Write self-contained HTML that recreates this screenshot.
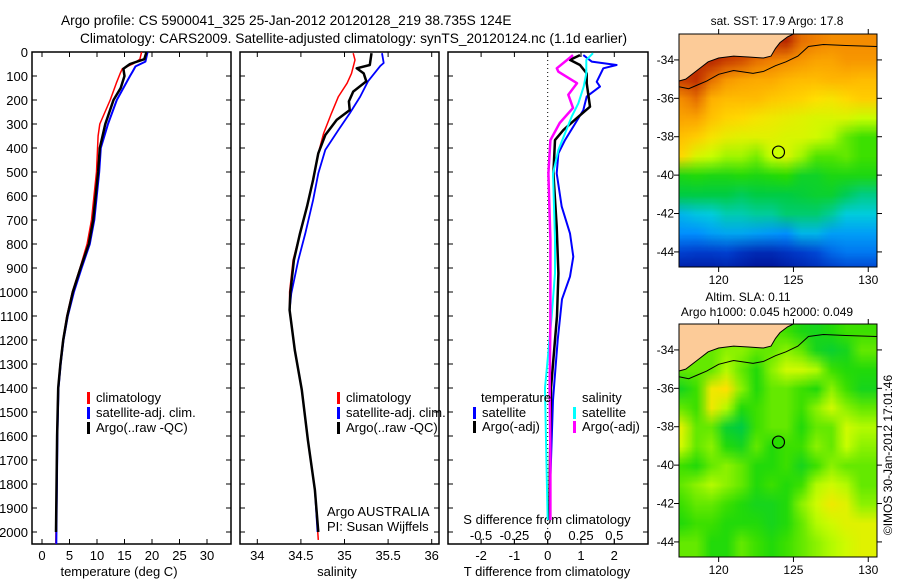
<!DOCTYPE html>
<html><head><meta charset="utf-8"><style>
html,body{margin:0;padding:0;background:#fff;width:900px;height:580px;overflow:hidden}
#wrap{position:relative;width:900px;height:580px}
canvas{position:absolute}
svg{position:absolute;left:0;top:0}
text{font-family:"Liberation Sans",sans-serif;font-size:13px;fill:#000}
</style></head><body>
<div id="wrap">
<canvas id="sstc" width="198" height="233" style="left:679px;top:34px"></canvas>
<canvas id="slac" width="198" height="233" style="left:679px;top:324px"></canvas>
<svg id="fig" width="900" height="580">
<text x="61" y="25" style="font-size:13.7px">Argo profile: CS 5900041_325 25-Jan-2012 20120128_219 38.735S 124E</text>
<text x="80" y="43" style="font-size:13.7px">Climatology: CARS2009. Satellite-adjusted climatology: synTS_20120124.nc (1.1d earlier)</text>
<text x="777" y="25" text-anchor="middle" style="font-size:12px">sat. SST: 17.9 Argo: 17.8</text>
<text x="748" y="301" text-anchor="middle" style="font-size:12px">Altim. SLA: 0.11</text>
<text x="767" y="316" text-anchor="middle" style="font-size:12px">Argo h1000: 0.045 h2000: 0.049</text>
<text transform="translate(892,455) rotate(-90)" text-anchor="middle" style="font-size:12px">©IMOS 30-Jan-2012 17:01:46</text>
<text x="119" y="576" text-anchor="middle">temperature (deg C)</text>
<text x="337" y="576" text-anchor="middle">salinity</text>
<text x="547" y="576" text-anchor="middle">T difference from climatology</text>
<text x="547" y="524" text-anchor="middle">S difference from climatology</text>
<text x="327" y="516">Argo AUSTRALIA</text>
<text x="327" y="531">PI: Susan Wijffels</text>
</svg>
</div>
<script>
// ---------- data ----------
const depthTicks=[0,100,200,300,400,500,600,700,800,900,1000,1100,1200,1300,1400,1500,1600,1700,1800,1900,2000];
const tTicks=[0,5,10,15,20,25,30];
const sTicks=[34,34.5,35,35.5,36];
const tdTicks=[-2,-1,0,1,2];
const tdTickLabels=["-2","-1","0","1","2"];
const sdTicks=[-0.5,-0.25,0,0.25,0.5];
const sdTickLabels=["-0.5","-0.25","0","0.25","0.5"];
// temperature profiles
const tClimDepth=[0,30,50,60,70,90,130,200,300,350,500,700,800,900,1000,1100,1200,1300,1400,1600,2050];
const tClim=[18.1,17.8,16.5,15.5,14.6,14.2,13.5,12.4,10.5,10.2,9.9,9.0,8.2,6.9,5.5,4.5,3.8,3.3,2.9,2.7,2.5];
const tSatDepth=[0,40,60,80,100,150,200,300,400,500,700,800,900,1000,1100,1200,1300,1400,1600,2050];
const tSat=[19.2,18.8,17.0,16.5,16.0,14.8,13.6,12.0,10.7,10.4,9.5,8.7,7.2,5.8,4.7,3.9,3.4,3.0,2.8,2.6];
const tArgoDepth=[0,30,50,70,100,150,200,300,400,500,700,800,900,1000,1100,1200,1300,1400,1600,2000];
const tArgo=[19.0,18.6,16.0,14.8,15.0,14.3,13.0,11.5,10.5,10.2,9.3,8.5,7.0,5.6,4.6,3.85,3.35,2.95,2.75,2.55];
// salinity profiles
const sClimDepth=[5,33,89,130,186,256,339,422,533,644,756,867,1000,1075,1242,1408,1617,1825,2033];
const sClim=[35.10,35.12,35.08,35.03,34.93,34.85,34.76,34.70,34.64,34.57,34.49,34.41,34.37,34.37,34.43,34.51,34.58,34.66,34.70];
const sSatDepth=[5,46,58,122,186,256,325,408,506,617,756,867,1006,1075,1242,1408,1617,1825,2000];
const sSat=[35.43,35.45,35.41,35.27,35.18,35.06,34.93,34.78,34.70,34.64,34.55,34.47,34.39,34.37,34.43,34.51,34.58,34.66,34.69];
const sArgoDepth=[5,54,68,89,122,165,206,242,283,346,422,533,644,756,867,1000,1075,1242,1408,1617,1825,2000];
const sArgo=[35.31,35.29,35.14,35.22,35.25,35.10,35.05,35.06,34.91,34.78,34.70,34.64,34.57,34.49,34.42,34.38,34.37,34.43,34.51,34.58,34.66,34.70];
// difference profiles
const dTSatDepth=[13,40,54,68,124,144,186,242,311,367,422,506,644,756,853,936,1030,1200,1450,1700,1950];
const dTSat=[1.07,1.32,2.07,1.67,1.47,1.57,1.17,1.07,0.77,0.52,0.32,0.27,0.42,0.67,0.77,0.67,0.43,0.3,0.16,0.1,0.04];
const dTArgoDepth=[13,33,54,89,130,228,276,325,367,506,728,922,1100,1400,1700,1950];
const dTArgo=[0.97,0.67,0.97,1.17,1.17,1.27,0.87,0.47,0.22,0.17,0.27,0.32,0.28,0.10,0.07,0.05];
const dSSatDepth=[5,33,89,144,214,269,339,408,506,783,922,1100,1400,1700,1950];
const dSSat=[0.34,0.29,0.29,0.27,0.23,0.18,0.13,0.08,0.04,0.055,0.055,0.03,-0.02,-0.01,0.0];
const dSArgoDepth=[13,68,82,130,178,233,296,367,506,783,1100,1400,1700,1950];
const dSArgo=[0.19,0.068,0.08,0.22,0.155,0.19,0.09,0.02,0.005,0.02,0.02,0.015,0.02,0.02];
// maps: rows lat 33..45, cols lon 117.5..130.5
const sstGrid=[
[0.88,0.88,0.88,0.88,0.88,0.88,0.88,0.9,0.8,0.78,0.76,0.76,0.76,0.76],
[0.88,0.88,0.9,0.86,0.84,0.8,0.78,0.76,0.74,0.72,0.72,0.74,0.74,0.74],
[0.86,0.88,0.8,0.74,0.72,0.71,0.71,0.69,0.68,0.68,0.69,0.69,0.68,0.68],
[0.76,0.8,0.7,0.68,0.68,0.68,0.66,0.65,0.64,0.62,0.61,0.63,0.65,0.65],
[0.72,0.72,0.67,0.64,0.63,0.61,0.6,0.59,0.58,0.57,0.57,0.57,0.55,0.55],
[0.67,0.65,0.61,0.59,0.58,0.58,0.58,0.57,0.57,0.56,0.54,0.5,0.48,0.48],
[0.63,0.57,0.55,0.53,0.53,0.51,0.55,0.57,0.53,0.49,0.49,0.5,0.48,0.48],
[0.45,0.46,0.45,0.45,0.46,0.45,0.46,0.47,0.43,0.43,0.45,0.45,0.45,0.45],
[0.4,0.4,0.4,0.4,0.39,0.4,0.4,0.4,0.41,0.42,0.42,0.39,0.37,0.37],
[0.3,0.32,0.33,0.35,0.35,0.36,0.36,0.38,0.38,0.38,0.36,0.33,0.33,0.33],
[0.25,0.25,0.27,0.28,0.28,0.27,0.26,0.25,0.3,0.3,0.27,0.27,0.27,0.27],
[0.15,0.14,0.14,0.15,0.12,0.1,0.1,0.12,0.14,0.16,0.2,0.22,0.22,0.22],
[0.06,0.06,0.06,0.07,0.06,0.04,0.04,0.06,0.08,0.1,0.12,0.14,0.14,0.14]];
const slaGrid=[
[0.5,0.5,0.5,0.5,0.5,0.5,0.5,0.48,0.45,0.44,0.46,0.48,0.48,0.48],
[0.5,0.5,0.5,0.52,0.52,0.5,0.5,0.52,0.5,0.44,0.42,0.44,0.5,0.5],
[0.5,0.5,0.5,0.54,0.5,0.46,0.52,0.56,0.56,0.54,0.48,0.46,0.46,0.46],
[0.44,0.48,0.6,0.62,0.52,0.46,0.5,0.5,0.48,0.46,0.52,0.48,0.44,0.44],
[0.5,0.48,0.6,0.54,0.46,0.48,0.5,0.5,0.48,0.52,0.56,0.52,0.5,0.5],
[0.58,0.5,0.5,0.42,0.4,0.48,0.5,0.5,0.46,0.5,0.5,0.56,0.54,0.54],
[0.56,0.5,0.52,0.46,0.44,0.5,0.46,0.48,0.48,0.52,0.5,0.55,0.52,0.52],
[0.48,0.46,0.5,0.52,0.5,0.46,0.46,0.48,0.44,0.48,0.52,0.5,0.5,0.5],
[0.5,0.52,0.54,0.52,0.5,0.46,0.48,0.46,0.48,0.54,0.56,0.54,0.5,0.5],
[0.48,0.5,0.5,0.48,0.46,0.44,0.44,0.46,0.52,0.56,0.6,0.58,0.52,0.52],
[0.46,0.48,0.48,0.46,0.46,0.46,0.44,0.46,0.5,0.54,0.56,0.58,0.58,0.58],
[0.5,0.5,0.46,0.46,0.5,0.48,0.46,0.48,0.5,0.52,0.54,0.56,0.58,0.58],
[0.5,0.5,0.46,0.46,0.5,0.48,0.46,0.48,0.5,0.52,0.54,0.56,0.58,0.58]];
const coastLon=[117.35,117.8,118.3,118.8,119.3,120,121,122,123,123.5,123.8,124.1,124.6,125,125,117.35];
const coastLat=[35.1,35.0,34.7,34.4,34.1,33.9,33.8,33.85,33.9,33.8,33.4,33.1,32.8,32.65,32.65,32.65];
const isoLon=[117.35,118,118.6,119.2,120,121,122.3,123,123.8,124.5,125.3,126,127,128.5,130.57];
const isoLat=[35.4,35.5,35.3,35.1,34.75,34.55,34.7,34.6,34.3,34.1,33.8,33.3,33.2,33.25,33.3];
const mapLonTicks=[120,125,130];
const mapLatTicks=[34,36,38,40,42,44];
const argoLon=124, argoLat=38.8;

// ---------- scales ----------
const yTop=52, yBot=544;
const yD=d=>yTop+d*0.24;
const xT=t=>42+5.5*t;
const xS=s=>257.3+87.2*(s-34);
const xDT=t=>547.7+33.3*t;
const xDS=s=>547.7+133.2*s;
const mapX=lon=>679+(lon-117.35)*14.96;
const mapY0=lat=>34+(lat-32.65)*19.2;

const svg=document.getElementById('fig');
const NS='http://www.w3.org/2000/svg';
function mk(tag,attrs,parent){const e=document.createElementNS(NS,tag);for(const k in attrs)e.setAttribute(k,attrs[k]);(parent||svg).appendChild(e);return e;}

function panel(name,x0,x1,xticks,xfn,labels,topTicks,topFn){
  const g=mk('g',{});
  
  
  const r=mk('rect',{x:x0,y:yTop,width:x1-x0,height:yBot-yTop,fill:'none',stroke:'#000','stroke-width':1.5},g);
  
  
  depthTicks.forEach(d=>{const y=yD(d);
    mk('line',{x1:x0,x2:x0+5,y1:y,y2:y,stroke:'#000'},g);
    mk('line',{x1:x1-5,x2:x1,y1:y,y2:y,stroke:'#000'},g);});
  xticks.forEach((v,i)=>{const x=xfn(v);
    mk('line',{x1:x,x2:x,y1:yBot,y2:yBot-5,stroke:'#000'},g);
    if(!topTicks) mk('line',{x1:x,x2:x,y1:yTop,y2:yTop+5,stroke:'#000'},g);
    const t=mk('text',{x:x,y:560,'text-anchor':'middle'},g);t.textContent=labels[i];
    
    });
  if(topTicks) topTicks.forEach((v,i)=>{const x=topFn(v);
    mk('line',{x1:x,x2:x,y1:yTop,y2:yTop+5,stroke:'#000'},g);
    mk('line',{x1:x,x2:x,y1:yBot,y2:yBot-5,stroke:'#000'},g);});
  return g;
}
function series(name,ds,vs,xf,color,w,clipId){
  const pts=ds.map((d,i)=>xf(vs[i]).toFixed(1)+','+yD(d).toFixed(1)).join(' ');
  const p=mk('polyline',{points:pts,fill:'none',stroke:color,'stroke-width':w,'stroke-linejoin':'round','clip-path':'url(#'+clipId+')'});
  
  
}
const defs=mk('defs',{});
[['c1',32,231],['c2',240,439],['c3',448,648]].forEach(c=>{const cp=mk('clipPath',{id:c[0]},defs);mk('rect',{x:c[1],y:yTop,width:c[2]-c[1],height:yBot-yTop},cp);});

// depth labels
depthTicks.forEach(d=>{const t=mk('text',{x:28,y:yD(d)+5,'text-anchor':'end'});t.textContent=d;
  
  });

panel('temperature-panel',32,231,tTicks,xT,tTicks.map(String));
panel('salinity-panel',240,439,sTicks,xS,sTicks.map(String));
panel('difference-panel',448,648,tdTicks,xDT,tdTickLabels,sdTicks,xDS);

series('temp-climatology-line',tClimDepth,tClim,xT,'#f00',1.5,'c1');
series('temp-satellite-line',tSatDepth,tSat,xT,'#00f',2,'c1');
series('temp-argo-line',tArgoDepth,tArgo,xT,'#000',2.5,'c1');
series('sal-climatology-line',sClimDepth,sClim,xS,'#f00',1.5,'c2');
series('sal-satellite-line',sSatDepth,sSat,xS,'#00f',1.8,'c2');
series('sal-argo-line',sArgoDepth,sArgo,xS,'#000',2.5,'c2');
// zero dotted line
const zl=mk('line',{x1:xDT(0),x2:xDT(0),y1:yTop,y2:yBot,stroke:'#000','stroke-dasharray':'1,3'});


series('tdiff-satellite-line',dTSatDepth,dTSat,xDT,'#00f',2,'c3');
series('tdiff-argo-line',dTArgoDepth,dTArgo,xDT,'#000',2.5,'c3');
series('sdiff-satellite-line',dSSatDepth,dSSat,xDS,'#0ff',2,'c3');
series('sdiff-argo-line',dSArgoDepth,dSArgo,xDS,'#f0f',2.5,'c3');
// S diff tick labels
sdTicks.forEach((v,i)=>{const t=mk('text',{x:xDS(v),y:540,'text-anchor':'middle'});t.textContent=sdTickLabels[i];
  
  });

function legend(name,x,y,color,label){
  const g=mk('g',{});
  
  
  mk('rect',{x:x,y:y-10,width:3,height:12,fill:color},g);
  const t=mk('text',{x:x+9,y:y},g);t.textContent=label;
}
[[87,'p1'],[337,'p2']].forEach(([x,p])=>{
  legend(p+'-legend-climatology',x,402,'#f00','climatology');
  legend(p+'-legend-satellite',x,417,'#00f','satellite-adj. clim.');
  legend(p+'-legend-argo',x,432,'#000','Argo(..raw -QC)');
});
const lt=mk('text',{x:481,y:402});lt.textContent='temperature';


const ls=mk('text',{x:582,y:402});ls.textContent='salinity';


legend('legend-t-satellite',473,417,'#00f','satellite');
legend('legend-t-argo',473,431,'#000','Argo(-adj)');
legend('legend-s-satellite',573,417,'#0ff','satellite');
legend('legend-s-argo',573,431,'#f0f','Argo(-adj)');

// ---------- maps ----------
const cStops=[[0,[0,0,128]],[0.15,[0,64,208]],[0.25,[0,144,255]],[0.33,[0,204,221]],[0.4,[0,204,68]],[0.47,[40,220,0]],[0.55,[200,255,0]],[0.62,[255,224,0]],[0.7,[255,176,0]],[0.78,[240,128,0]],[0.88,[192,48,0]],[1,[144,0,0]]];
function cmap(v){for(let i=1;i<cStops.length;i++){if(v<=cStops[i][0]){const a=cStops[i-1],b=cStops[i];const f=(v-a[0])/(b[0]-a[0]);return a[1].map((c,k)=>Math.round(c+(b[1][k]-c)*f));}}return cStops[cStops.length-1][1];}
function drawMap(id,grid,off){
  const cv=document.getElementById(id),ctx=cv.getContext('2d');
  const nr=grid.length,nc=grid[0].length;
  const sm=document.createElement('canvas');sm.width=nc;sm.height=nr;
  const sc=sm.getContext('2d');const im=sc.createImageData(nc,nr);
  for(let r=0;r<nr;r++)for(let c=0;c<nc;c++){const col=cmap(grid[r][c]);const k=(r*nc+c)*4;im.data[k]=col[0];im.data[k+1]=col[1];im.data[k+2]=col[2];im.data[k+3]=255;}
  sc.putImageData(im,0,0);
  ctx.imageSmoothingEnabled=true;
  const x0=(117-117.35)*14.96,y0=(32.5-32.65)*19.2;
  ctx.drawImage(sm,x0,y0,nc*14.96,nr*19.2);
  const g=mk('g',{});
  
  
  const my=lat=>mapY0(lat)+off;
  const land=mk('polygon',{points:coastLon.map((l,i)=>mapX(l)+','+my(coastLat[i])).join(' '),fill:'#fccb98',stroke:'#000','stroke-width':1},g);
  
  
  mk('polyline',{points:isoLon.map((l,i)=>mapX(l)+','+my(isoLat[i])).join(' '),fill:'none',stroke:'#000','stroke-width':1},g);
  mk('rect',{x:679,y:34+off,width:198,height:233,fill:'none',stroke:'#000'},g);
  const cc=cmap(id==='sstc'?0.55:0.47);
  const circ=mk('circle',{cx:mapX(argoLon),cy:my(argoLat),r:6,fill:'rgb('+cc.join(',')+')',stroke:'#000','stroke-width':1.2},g);
  
  
  mapLonTicks.forEach(l=>{const x=mapX(l);
    mk('line',{x1:x,x2:x,y1:34+off,y2:29+off,stroke:'#000'},g);
    mk('line',{x1:x,x2:x,y1:267+off,y2:272+off,stroke:'#000'},g);
    const t=mk('text',{x:x,y:284+off,'text-anchor':'middle',style:'font-size:12px'},g);t.textContent=l;});
  mapLatTicks.forEach(l=>{const y=my(l);
    mk('line',{x1:877,x2:882,y1:y,y2:y,stroke:'#000'},g);
    mk('line',{x1:679,x2:674,y1:y,y2:y,stroke:'#000'},g);
    const t=mk('text',{x:674,y:y+4,'text-anchor':'end',style:'font-size:12px'},g);t.textContent='-'+l;});
}
drawMap('sstc',sstGrid,0);
drawMap('slac',slaGrid,290);
</script>
</body></html>
